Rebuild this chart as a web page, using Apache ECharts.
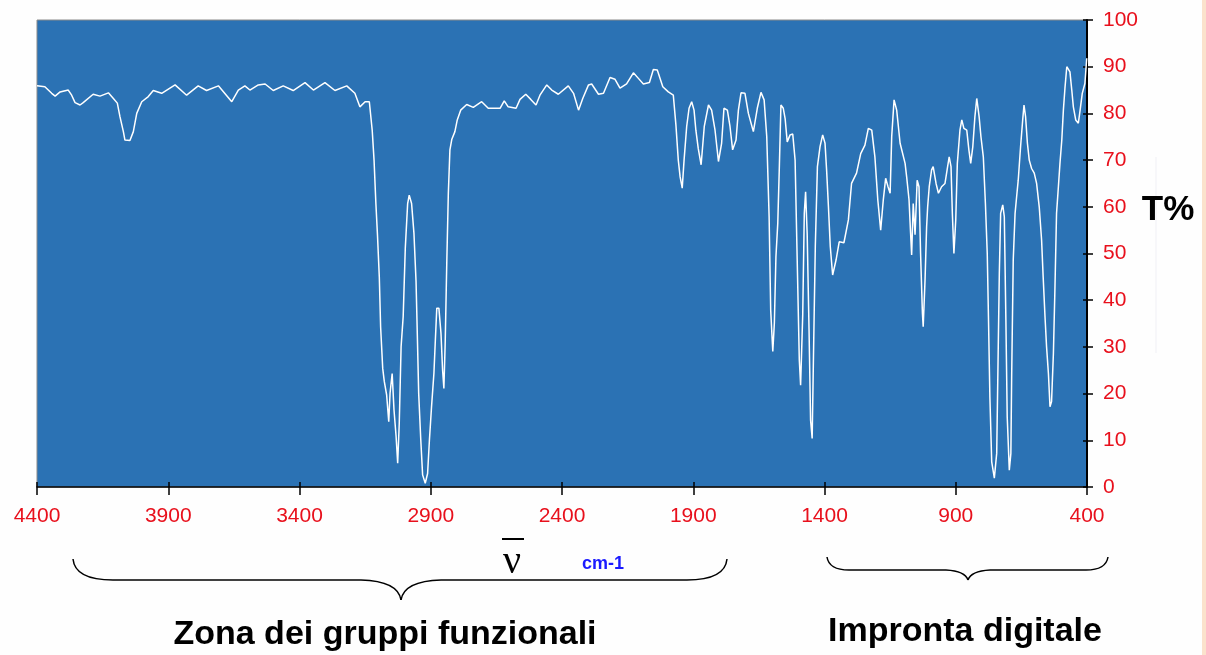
<!DOCTYPE html>
<html>
<head>
    <meta charset="UTF-8">
    <title>Spettro IR</title>
    <script src="https://cdn.jsdelivr.net/npm/echarts@6/dist/echarts.min.js"></script>
</head>
<body style="margin: 0;background: #fff;">
<div id="chart" style="width: 1206px;height: 655px;"></div>
<script type="text/javascript">
    var wavenumbers = [
        4400, 4370, 4344, 4331, 4312, 4281, 4268, 4255, 4236, 4224, 4186, 4160, 4128, 4109, 4094, 4084,
        4071, 4065, 4046, 4033, 4020, 4001, 3976, 3957, 3925, 3874, 3830, 3786, 3754, 3709, 3658, 3633,
        3608, 3589, 3557, 3531, 3500, 3462, 3424, 3379, 3347, 3303, 3265, 3220, 3189, 3170, 3150, 3134,
        3123, 3116, 3109, 3103, 3096, 3091, 3083, 3077, 3068, 3060, 3055, 3047, 3040, 3032, 3026, 3020,
        3013, 3005, 2997, 2988, 2982, 2973, 2964, 2956, 2951, 2946, 2938, 2931, 2921, 2912, 2905, 2897,
        2888, 2883, 2877, 2869, 2861, 2855, 2850, 2845, 2839, 2833, 2827, 2820, 2808, 2799, 2786, 2763,
        2738, 2706, 2681, 2636, 2620, 2605, 2575, 2560, 2538, 2519, 2499, 2484, 2458, 2439, 2414, 2376,
        2356, 2337, 2321, 2299, 2287, 2261, 2242, 2217, 2198, 2179, 2154, 2128, 2109, 2090, 2067, 2052,
        2037, 2016, 1995, 1976, 1966, 1957, 1950, 1942, 1935, 1925, 1916, 1906, 1897, 1890, 1881, 1870,
        1858, 1842, 1830, 1817, 1804, 1792, 1783, 1770, 1760, 1750, 1737, 1728, 1718, 1703, 1690, 1671,
        1656, 1642, 1630, 1620, 1611, 1605, 1597, 1591, 1585, 1578, 1572, 1566, 1557, 1550, 1542, 1531,
        1521, 1512, 1504, 1496, 1491, 1483, 1477, 1472, 1466, 1459, 1453, 1447, 1441, 1435, 1427, 1417,
        1407, 1398, 1392, 1385, 1378, 1369, 1356, 1344, 1326, 1309, 1297, 1278, 1262, 1246, 1233, 1220,
        1208, 1197, 1186, 1176, 1167, 1158, 1150, 1144, 1135, 1125, 1112, 1093, 1087, 1078, 1072, 1068,
        1062, 1055, 1047, 1040, 1034, 1027, 1024, 1017, 1011, 1007, 1001, 992, 986, 975, 966, 954,
        941, 931, 925, 918, 913, 907, 900, 894, 884, 877, 869, 858, 850, 843, 835, 827,
        820, 811, 804, 795, 787, 780, 775, 770, 763, 753, 744, 739, 734, 729, 721, 715,
        709, 704, 696, 690, 687, 681, 674, 668, 662, 653, 645, 640, 634, 627, 620, 611,
        601, 592, 582, 573, 567, 560, 554, 547, 541, 535, 528, 522, 516, 509, 503, 496,
        490, 484, 477, 465, 458, 452, 443, 433, 427, 418, 408, 401
    ];
    var transmittance = [
        85.9, 85.7, 84.3, 83.7, 84.6, 85.0, 83.9, 82.3, 81.8, 82.3, 84.1, 83.7, 84.4, 83.2, 82.2, 79.3,
        76.1, 74.3, 74.2, 76.1, 80.0, 82.5, 83.6, 84.9, 84.3, 86.1, 83.9, 85.9, 84.9, 85.9, 82.5, 85.0,
        85.9, 85.0, 86.1, 86.3, 84.9, 85.9, 84.9, 86.6, 85.0, 86.6, 84.9, 85.9, 84.3, 81.4, 82.5, 82.5,
        76.4, 70.0, 60.7, 54.0, 45.0, 34.3, 25.4, 22.6, 19.7, 14.0, 20.1, 24.3, 16.5, 10.8, 5.1, 13.6,
        30.0, 36.5, 51.1, 60.7, 62.5, 60.7, 54.3, 44.0, 32.2, 20.1, 10.1, 2.6, 0.8, 2.9, 10.1, 17.2,
        24.3, 30.8, 38.3, 38.3, 32.9, 25.1, 21.1, 30.8, 47.9, 62.9, 72.2, 74.4, 76.1, 78.6, 80.7, 81.9,
        81.3, 82.5, 81.1, 81.1, 82.7, 81.4, 81.1, 83.0, 84.1, 83.0, 81.8, 83.9, 86.1, 85.0, 84.1, 85.9,
        84.3, 80.7, 83.2, 86.1, 86.3, 84.1, 84.3, 87.7, 87.3, 85.4, 86.3, 88.7, 87.5, 86.3, 86.6, 89.4,
        89.3, 85.7, 84.6, 83.9, 77.5, 70.0, 66.4, 64.0, 70.0, 77.2, 81.1, 82.5, 80.7, 76.4, 72.5, 69.0,
        77.2, 81.8, 80.7, 76.4, 69.7, 73.6, 81.1, 80.7, 77.2, 72.2, 74.3, 80.7, 84.4, 84.3, 80.0, 76.1,
        81.1, 84.5, 82.9, 75.0, 57.9, 37.9, 29.0, 35.1, 49.3, 56.5, 68.6, 81.8, 81.1, 78.9, 73.9, 75.4,
        75.6, 70.0, 48.6, 27.2, 21.8, 36.8, 58.6, 63.2, 54.3, 34.0, 14.3, 10.4, 31.5, 51.5, 68.6, 72.9,
        75.4, 73.6, 67.9, 60.0, 51.5, 45.4, 48.6, 52.5, 52.3, 57.2, 65.0, 67.2, 71.4, 73.2, 76.8, 76.4,
        70.7, 61.5, 55.0, 61.5, 66.1, 64.3, 62.9, 75.0, 82.9, 80.7, 73.6, 69.3, 66.4, 61.5, 54.3, 49.7,
        60.7, 54.0, 65.7, 64.3, 50.0, 37.2, 34.3, 44.3, 55.7, 60.0, 64.3, 67.9, 68.6, 65.0, 62.9, 64.3,
        65.0, 68.6, 70.7, 68.6, 58.6, 50.0, 57.2, 69.3, 76.4, 78.6, 76.8, 76.4, 72.2, 69.3, 72.9, 79.3,
        83.2, 79.3, 75.0, 70.7, 60.7, 50.0, 35.1, 19.3, 5.4, 1.9, 7.2, 26.5, 45.8, 58.6, 60.4, 57.9,
        35.8, 15.1, 3.6, 7.2, 23.6, 48.6, 58.6, 62.2, 65.7, 72.9, 78.6, 81.8, 79.3, 73.6, 70.0, 68.2,
        67.2, 65.0, 60.0, 52.9, 45.0, 36.5, 30.0, 24.3, 17.2, 18.3, 28.6, 42.9, 58.6, 64.3, 69.3, 74.3,
        80.7, 85.4, 90.0, 88.9, 85.0, 81.4, 78.6, 77.9, 80.4, 84.3, 86.4, 91.8
    ];
    var xTicks = [4400, 3900, 3400, 2900, 2400, 1900, 1400, 900, 400];

    var spectrum = wavenumbers.map(function (w, i) {
        return [w, transmittance[i]];
    });

    // graffa orizzontale disegnata con curve di bezier
    function brace(xl, xr, xm, yEnd, yBar, yTip, r) {
        var st = {stroke: '#000', lineWidth: 1.5, fill: null};
        return [
            {type: 'bezierCurve', shape: {x1: xl, y1: yEnd, cpx1: xl + 2, cpy1: yBar, x2: xl + r, y2: yBar}, style: st},
            {type: 'line', shape: {x1: xl + r, y1: yBar, x2: xm - r, y2: yBar}, style: st},
            {type: 'bezierCurve', shape: {x1: xm - r, y1: yBar, cpx1: xm - 3, cpy1: yBar + 1, x2: xm, y2: yTip}, style: st},
            {type: 'bezierCurve', shape: {x1: xm, y1: yTip, cpx1: xm + 3, cpy1: yBar + 1, x2: xm + r, y2: yBar}, style: st},
            {type: 'line', shape: {x1: xm + r, y1: yBar, x2: xr - r, y2: yBar}, style: st},
            {type: 'bezierCurve', shape: {x1: xr - r, y1: yBar, cpx1: xr - 2, cpy1: yBar, x2: xr, y2: yEnd}, style: st}
        ];
    }

    var red = '#e8101c';
    var chart = echarts.init(document.getElementById('chart'));
    var option = {
        backgroundColor: '#fefefe',
        animation: false,
        grid: {
            left: 37, top: 20, width: 1050, height: 467,
            show: true,
            backgroundColor: '#2b72b4',
            borderColor: '#8a8a8a',
            borderWidth: 1
        },
        xAxis: [{
            type: 'value',
            min: 400, max: 4400,
            inverse: true,
            position: 'bottom',
            axisLine: {lineStyle: {color: '#000', width: 1.5}},
            axisTick: {customValues: xTicks, length: 8, lineStyle: {color: '#000', width: 1.5}},
            axisLabel: {
                customValues: xTicks,
                color: red, fontSize: 21, fontFamily: 'Liberation Sans', margin: 19,
                formatter: function (v) { return String(v); }
            },
            splitLine: {show: false}
        }, {
            type: 'value',
            min: 400, max: 4400,
            inverse: true,
            position: 'bottom',
            axisLine: {show: false},
            axisTick: {customValues: xTicks, inside: true, length: 5, lineStyle: {color: '#000', width: 1.5}},
            axisLabel: {show: false},
            splitLine: {show: false}
        }],
        yAxis: [{
            type: 'value',
            min: 0, max: 100, interval: 10,
            position: 'right',
            axisLine: {show: true, lineStyle: {color: '#000', width: 2}},
            axisTick: {show: true, length: 6, lineStyle: {color: '#000', width: 1.5}},
            axisLabel: {color: red, fontSize: 21, fontFamily: 'Liberation Sans', margin: 16},
            splitLine: {show: false}
        }, {
            type: 'value',
            min: 0, max: 100, interval: 10,
            position: 'right',
            axisLine: {show: false},
            axisTick: {show: true, inside: true, length: 4, lineStyle: {color: '#000', width: 1.5}},
            axisLabel: {show: false},
            splitLine: {show: false}
        }],
        series: [{
            type: 'line',
            data: spectrum,
            showSymbol: false,
            lineStyle: {color: '#ffffff', width: 1.5},
            z: 3
        }],
        graphic: [
            {type: 'rect', shape: {x: 1202, y: 0, width: 4, height: 655}, style: {fill: '#fbe2cc'}},
            {type: 'line', shape: {x1: 1156, y1: 157, x2: 1156, y2: 353}, style: {stroke: '#f0f0f5', lineWidth: 1}},
            {type: 'text', x: 1168, y: 210, style: {
                text: 'T%', fill: '#000', font: 'bold 35px "Liberation Sans"', align: 'center', verticalAlign: 'middle'}},
            {type: 'line', shape: {x1: 502, y1: 539, x2: 524, y2: 539}, style: {stroke: '#000', lineWidth: 2}},
            {type: 'text', x: 512, y: 562, style: {
                text: 'ν', fill: '#000', font: '40px "Liberation Serif"', align: 'center', verticalAlign: 'middle'}},
            {type: 'text', x: 603, y: 564, style: {
                text: 'cm-1', fill: '#1a1aff', font: 'bold 18px "Liberation Sans"', align: 'center', verticalAlign: 'middle'}},
            {type: 'text', x: 385, y: 635, style: {
                text: 'Zona dei gruppi funzionali', fill: '#000', font: 'bold 34px "Liberation Sans"', align: 'center', verticalAlign: 'middle'}},
            {type: 'text', x: 965, y: 632, style: {
                text: 'Impronta digitale', fill: '#000', font: 'bold 34px "Liberation Sans"', align: 'center', verticalAlign: 'middle'}}
        ].concat(brace(73, 727, 401, 559, 580, 600, 40), brace(827, 1108, 968, 557, 570, 580, 22))
    };
    chart.setOption(option);
</script>
</body>
</html>
